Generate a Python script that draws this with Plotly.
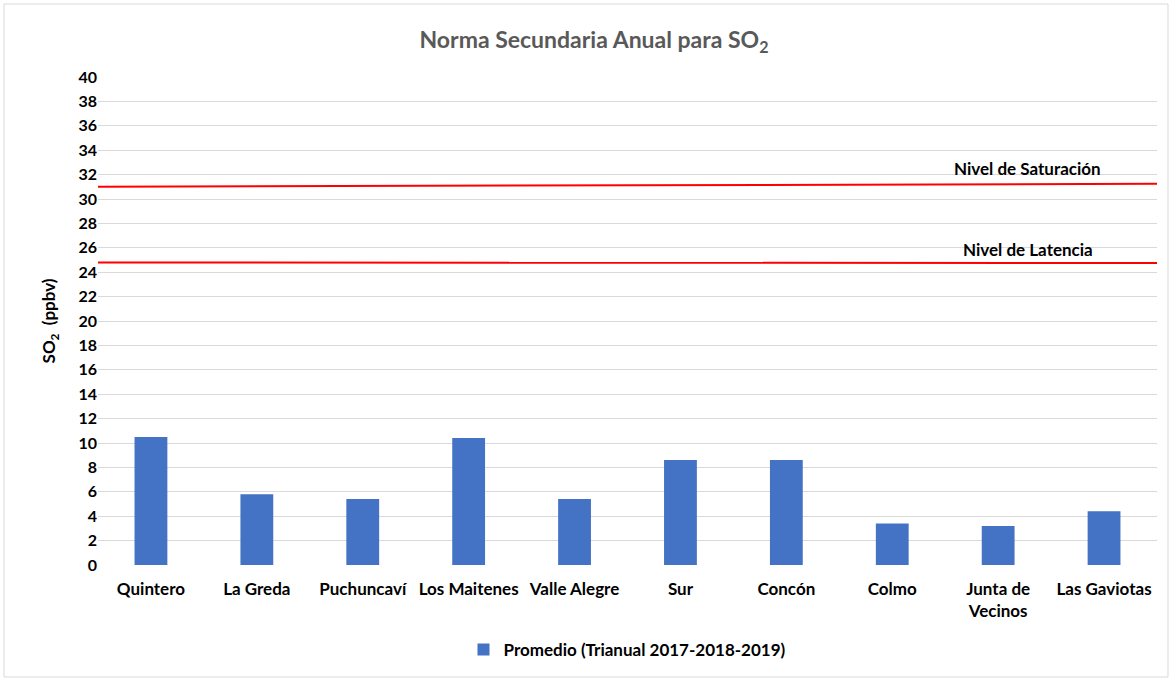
import plotly.graph_objects as go

categories = ["Quintero", "La Greda", "Puchuncaví", "Los Maitenes", "Valle Alegre",
              "Sur", "Concón", "Colmo", "Junta de<br>Vecinos", "Las Gaviotas"]
promedio = [10.5, 5.8, 5.4, 10.4, 5.4, 8.6, 8.6, 3.4, 3.2, 4.4]
saturacion = [31.0, 31.25]
latencia = [24.8, 24.75]
line_x = [0, 1]
y_ticks = list(range(0, 41, 2))

W, H = 1172, 681
ml, mr, mt, mb = 98, 15, 77, 116
pw, ph = W - ml - mr, H - mt - mb

FONT = "Lato"
fig = go.Figure()
fig.add_trace(go.Bar(
    x=categories, y=promedio, name="Promedio (Trianual 2017-2018-2019)",
    marker=dict(color="#4472C4", line=dict(width=0)), width=0.31,
))
fig.add_trace(go.Scatter(x=line_x, y=saturacion, xaxis="x2", mode="lines",
                         line=dict(color="#FF0000", width=2), showlegend=False, hoverinfo="skip"))
fig.add_trace(go.Scatter(x=line_x, y=latencia, xaxis="x2", mode="lines",
                         line=dict(color="#FF0000", width=2), showlegend=False, hoverinfo="skip"))

fig.update_layout(
    width=W, height=H,
    margin=dict(l=ml, r=mr, t=mt, b=mb),
    paper_bgcolor="white", plot_bgcolor="white",
    font=dict(family=FONT, size=17, color="#000000"),
    title=dict(text="<b>Norma Secundaria Anual para SO<sub>2</sub></b>", x=594 / W, xanchor="center",
               y=1 - 40 / H, yanchor="middle",
               font=dict(family=FONT, size=23, color="#595959")),
    xaxis=dict(showgrid=False, showline=False, ticks="",
               tickfont=dict(family=FONT, size=17, color="#000000", weight="bold"),
               ticklabelstandoff=12),
    xaxis2=dict(overlaying="x", range=[0, 1], visible=False),
    yaxis=dict(range=[0, 40], tickvals=y_ticks, showgrid=True, gridcolor="#D9D9D9", gridwidth=1,
               zeroline=False, showline=False, ticks="",
               tickfont=dict(family=FONT, size=16, color="#000000", weight="bold"),
               title=dict(text="<b>SO<sub>2</sub>  (ppbv)</b>", font=dict(family=FONT, size=17, color="#000000"),
                          standoff=18)),
    legend=dict(orientation="h", x=0.5, xanchor="center", y=-(650 - (mt + ph)) / ph, yanchor="middle",
                font=dict(family=FONT, size=17, color="#000000", weight="bold")),
    bargap=0.69,
    showlegend=True,
)

fig.add_annotation(text="<b>Nivel de Saturación</b>", xref="x2", yref="y", x=0.878, y=32.5,
                   showarrow=False, font=dict(family=FONT, size=17, color="#000000"))
fig.add_annotation(text="<b>Nivel de Latencia</b>", xref="x2", yref="y", x=0.878, y=25.9,
                   showarrow=False, font=dict(family=FONT, size=17, color="#000000"))

# chart border
fig.add_shape(type="rect", xref="paper", yref="paper",
              x0=(4 - ml) / pw, x1=(W - 4 - ml) / pw,
              y0=-(H - 4 - mt - ph) / ph, y1=1 + (mt - 4) / ph,
              line=dict(color="#D9D9D9", width=1), fillcolor="rgba(0,0,0,0)", layer="below")

fig.write_html("out.html", config={"displayModeBar": False},
               post_script="document.body.style.margin='0px';document.body.style.overflow='hidden';")
